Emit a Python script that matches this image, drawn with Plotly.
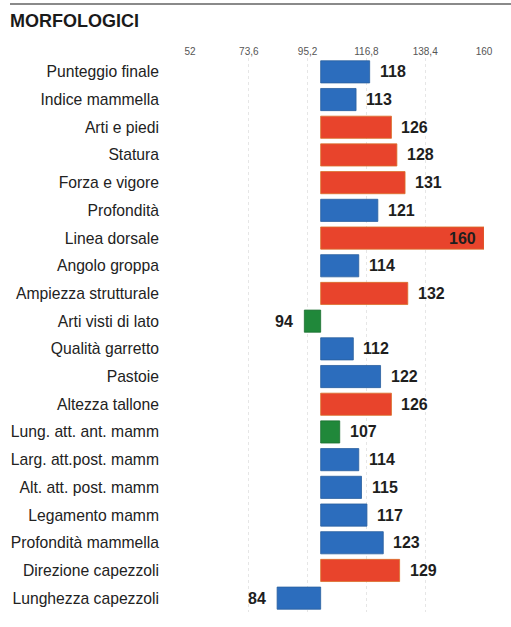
import plotly.graph_objects as go

categories = ["Punteggio finale", "Indice mammella", "Arti e piedi", "Statura",
              "Forza e vigore", "Profondità", "Linea dorsale", "Angolo groppa",
              "Ampiezza strutturale", "Arti visti di lato", "Qualità garretto",
              "Pastoie", "Altezza tallone", "Lung. att. ant. mamm",
              "Larg. att.post. mamm", "Alt. att. post. mamm", "Legamento mamm",
              "Profondità mammella", "Direzione capezzoli", "Lunghezza capezzoli"]
values = [118, 113, 126, 128, 131, 121, 160, 114, 132, 94,
          112, 122, 126, 107, 114, 115, 117, 123, 129, 84]
groups = ["b", "b", "r", "r", "r", "b", "r", "b", "r", "g",
          "b", "b", "r", "g", "b", "b", "b", "b", "r", "b"]
tick_vals = [52, 73.6, 95.2, 116.8, 138.4, 160]
tick_text = ["52", "73,6", "95,2", "116,8", "138,4", "160"]
base_value = 100

palette = {"b": "#2c6dbd", "r": "#e8442c", "g": "#20883a"}
edge = {"b": "#2a5f9e", "r": "#d9702a", "g": "#1b6e30"}

W, H = 511, 627
L, R, T, B = 190, 27, 58, 15
plot_w = W - L - R
plot_h = H - T - B

fig = go.Figure()
fig.add_trace(go.Bar(
    y=categories,
    x=[v - base_value for v in values],
    base=base_value,
    orientation="h",
    width=0.8,
    marker=dict(color=[palette[g] for g in groups],
                line=dict(color=[edge[g] for g in groups], width=0.8)),
    hoverinfo="skip",
))

xmax = max(tick_vals)
annotations = []
for c, v in zip(categories, values):
    if v >= xmax:
        xa, xs = "right", -6
    elif v >= base_value:
        xa, xs = "left", 8
    else:
        xa, xs = "right", -9
    annotations.append(dict(
        x=v, y=c, xref="x", yref="y", text="<b>%d</b>" % v, showarrow=False,
        xanchor=xa, xshift=xs, yanchor="middle",
        font=dict(family="Liberation Sans, Arial", size=16, color="#1e1e1e")))

line_y = 1 + (T - 4) / plot_h
fig.update_layout(
    width=W, height=H,
    margin=dict(l=L, r=R, t=T, b=B),
    paper_bgcolor="white", plot_bgcolor="white",
    showlegend=False,
    bargap=0.2,
    title=dict(text="<b>MORFOLOGICI</b>", xref="container", yref="container",
               x=10 / W, y=1 - 21 / H, xanchor="left", yanchor="middle",
               font=dict(family="Liberation Sans, Arial", size=18, color="#1a1a1a")),
    annotations=annotations,
    shapes=[dict(type="line", xref="paper", yref="paper", layer="above",
                 x0=(10 - L) / plot_w, x1=(W - L) / plot_w,
                 y0=line_y, y1=line_y,
                 line=dict(color="#8a8a8a", width=2))],
    xaxis=dict(range=[min(tick_vals), xmax], side="top",
               tickvals=tick_vals, ticktext=tick_text,
               tickfont=dict(family="Liberation Sans, Arial", size=10, color="#555"),
               showgrid=True, gridcolor="#e6e6e6", griddash="dot", gridwidth=1,
               zeroline=False, showline=False, ticks="", fixedrange=True),
    yaxis=dict(autorange="reversed", ticks="", showline=False, showgrid=False,
               ticklabelstandoff=30,
               tickfont=dict(family="Liberation Sans, Arial", size=15.7, color="#222")),
)

fig.write_html("out.html", config={"displayModeBar": False},
               post_script="document.body.style.margin='0';")
